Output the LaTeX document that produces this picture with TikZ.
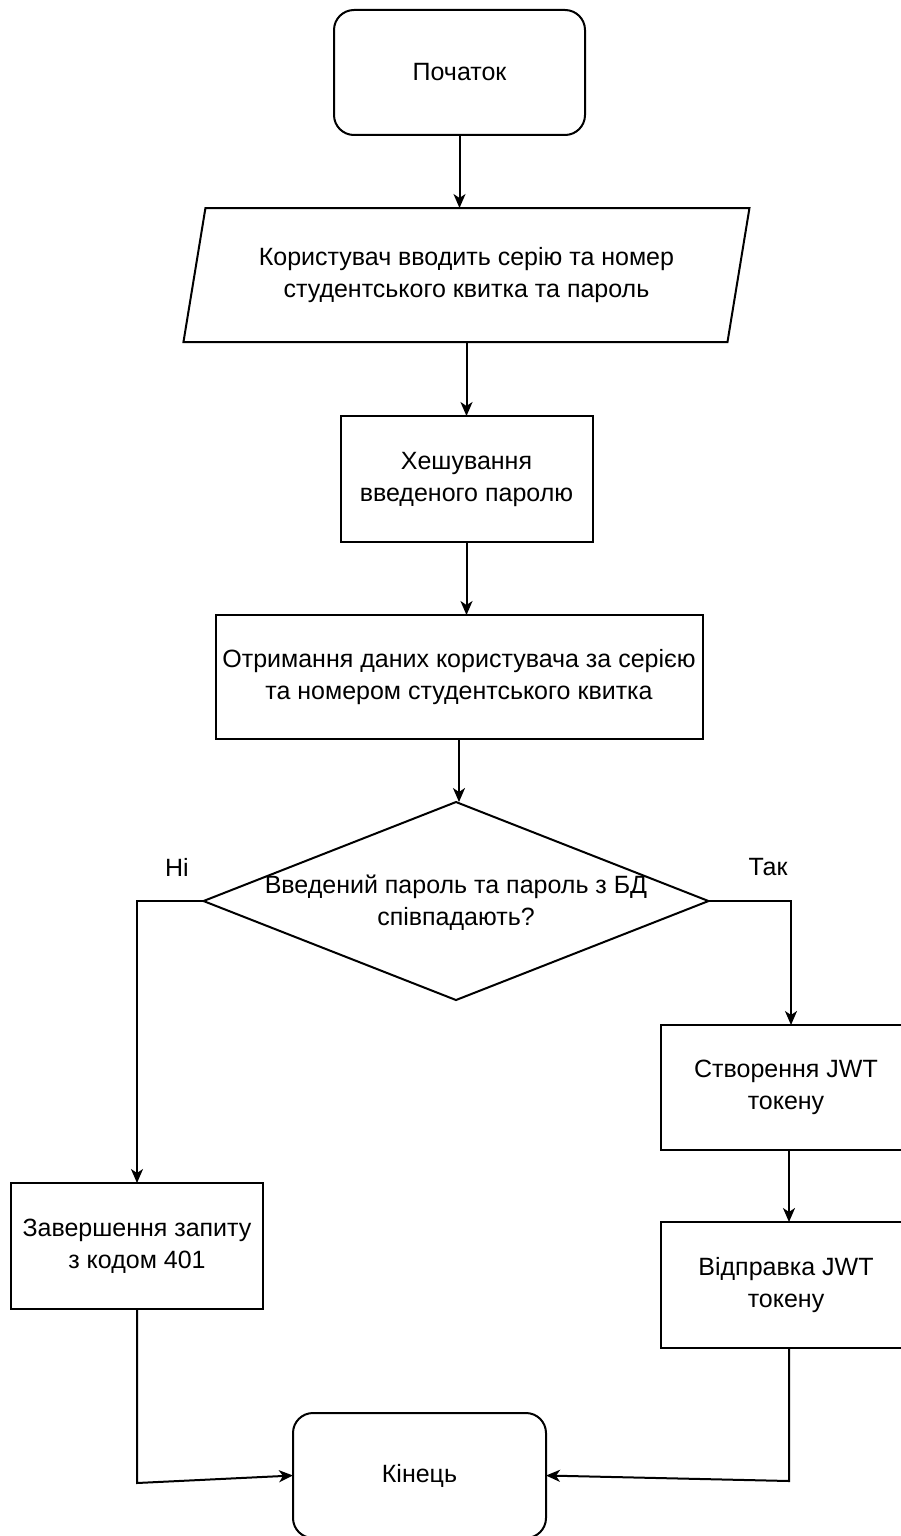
\documentclass[tikz,border=0pt]{standalone}
\usepackage{fontspec}
\setmainfont{Liberation Sans}
\usepackage{xcolor}
\usepackage{tikz}
\usetikzlibrary{arrows.meta,positioning,shapes.geometric}

\begin{document}
\begin{tikzpicture}[
    x=1pt, y=-1pt,
    node distance=73pt,
    every node/.style={font=\fontsize{25}{32}\selectfont, align=center, outer sep=0pt},
    term/.style={rectangle, rounded corners=20pt, draw, line width=2pt, minimum width=251pt, minimum height=125pt},
    proc/.style={rectangle, draw, line width=2pt, minimum width=252pt, minimum height=126pt},
    io/.style={trapezium, trapezium left angle=74, trapezium right angle=106, trapezium stretches=true, draw, line width=2pt, minimum width=567pt, minimum height=134pt},
    dec/.style={diamond, draw, line width=2pt, minimum width=505pt, minimum height=198pt, inner sep=0pt},
    arr/.style={-{Stealth[length=14pt, width=12pt, inset=4pt]}, line width=2pt}
]
    \clip (0,0) rectangle (901,1536);

    % Main chain
    \node[term] (start) at (459.5,72.5) {Початок};
    \node[io, below=73pt of start, xshift=7pt] (input) {Користувач вводить серію та номер\\студентського квитка та пароль};
    \node[proc, below=74pt of input] (hash) {Хешування\\введеного паролю};
    \node[proc, below=73pt of hash, xshift=-7.5pt, minimum width=487pt, minimum height=124pt] (fetch) {Отримання даних користувача за серією\\та номером студентського квитка};

    % Password check
    \node[dec, below=63pt of fetch, xshift=-3pt] (check) {};
    \node (checktext) at ([yshift=-2pt]check) {Введений пароль та пароль з БД\\співпадають?};
    \node (no) at (177,867) {Ні};
    \node (yes) at (768,867) {Так};

    % Branches
    \node[proc] (fail) at (137,1246) {Завершення запиту\\з кодом 401};
    \node[proc, minimum width=250pt, minimum height=125pt] (token) at (786,1087.5) {Створення JWT\\токену};
    \node[proc, below=72pt of token, minimum width=250pt] (send) {Відправка JWT\\токену};
    \node[term, minimum width=253pt] (end) at (419.5,1475.5) {Кінець};

    \coordinate (lbend) at (136,1483);
    \coordinate (rbend) at (789,1481);

    \draw[arr] (start.south) -- (start.south |- input.north);
    \draw[arr] (hash.north |- input.south) -- (hash.north);
    \draw[arr] (hash.south) -- (hash.south |- fetch.north);
    \draw[arr] (fetch.south) -- (fetch.south |- check.north);
    \draw[arr] (check.west) -| (fail.north);
    \draw[arr] (check.east) -| ([xshift=5pt]token.north);
    \draw[arr] ([xshift=3pt]token.south) -- ([xshift=3pt]send.north);
    \draw[arr] (fail.south) -- (fail.south |- lbend) -- (end.west);
    \draw[arr] ([xshift=3pt]send.south) -- ([xshift=3pt]send.south |- rbend) -- (end.east);
\end{tikzpicture}
\end{document}
